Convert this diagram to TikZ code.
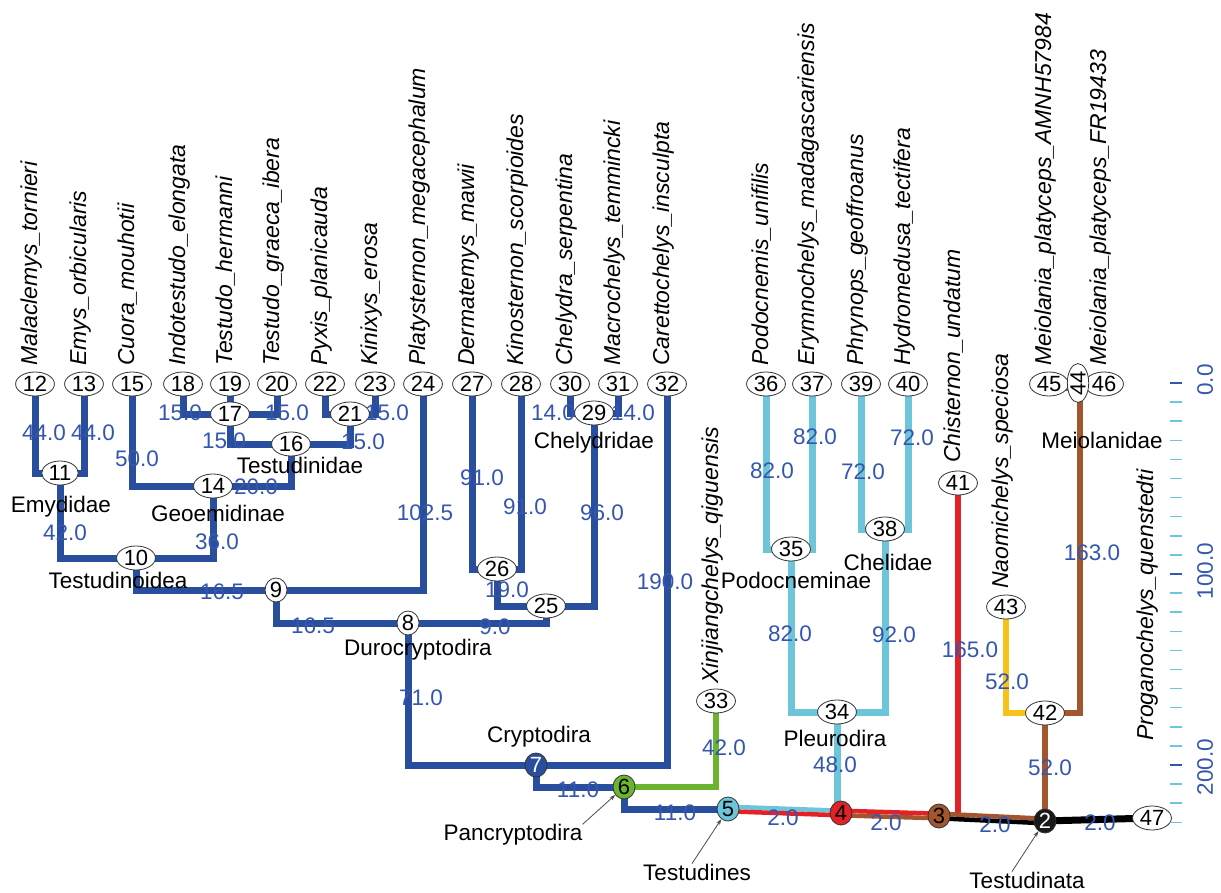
\documentclass[tikz,border=0pt]{standalone}
\usepackage{fontspec}
\setmainfont{Liberation Sans}
\usetikzlibrary{shapes.geometric,calc,backgrounds,arrows.meta}
\definecolor{cblue}{HTML}{2A4E9E}
\definecolor{lblue}{HTML}{6CC5D9}
\definecolor{cred}{HTML}{E32227}
\definecolor{cbrown}{HTML}{A3552E}
\definecolor{cyellow}{HTML}{F7C31B}
\definecolor{cgreen}{HTML}{6AB42E}
\definecolor{labblue}{HTML}{3556AE}
\begin{document}
\begin{tikzpicture}[x=1pt,y=-1pt,
  nd/.style={ellipse,draw=black!80,line width=0.8pt,fill=white,inner xsep=1.5pt,inner ysep=0pt,minimum height=24pt,minimum width=22pt,font=\fontsize{22}{22}\selectfont},
  tip/.style={rotate=90,anchor=base west,inner sep=0pt,font=\fontsize{23}{23}\selectfont\itshape},
  bl/.style={text=labblue,inner sep=0pt,font=\fontsize{22.5}{22.5}\selectfont},
  cl/.style={inner sep=0pt,font=\fontsize{22.5}{22.5}\selectfont},
  eb/.style={draw=cblue,line width=7pt},
  el/.style={draw=lblue,line width=7pt},
  er/.style={draw=cred,line width=6pt},
  ebr/.style={draw=cbrown,line width=6pt},
  ey/.style={draw=cyellow,line width=6pt},
  eg/.style={draw=cgreen,line width=6pt},
  ek/.style={draw=black,line width=7pt},
  half/.style={line width=4.5pt},
  arr/.style={draw=black!70,line width=0.8pt,-{Stealth[length=6pt,width=4pt]}},
  axl/.style={rotate=90,text=labblue,inner sep=0pt,font=\fontsize{22.5}{22.5}\selectfont}]
\useasboundingbox (0,0) rectangle (1221,893);

% tip nodes
\node[nd] (n12) at (35,384) {12};
\node[nd] (n13) at (84,384) {13};
\node[nd] (n15) at (132,384) {15};
\node[nd] (n18) at (183,384) {18};
\node[nd] (n19) at (230,384) {19};
\node[nd] (n20) at (277,384) {20};
\node[nd] (n22) at (325,384) {22};
\node[nd] (n23) at (375,384) {23};
\node[nd] (n24) at (423,384) {24};
\node[nd] (n27) at (472,384) {27};
\node[nd] (n28) at (521,384) {28};
\node[nd] (n30) at (570,384) {30};
\node[nd] (n31) at (618,384) {31};
\node[nd] (n32) at (667,384) {32};
\node[nd] (n36) at (766,384) {36};
\node[nd] (n37) at (812,384) {37};
\node[nd] (n39) at (861,384) {39};
\node[nd] (n40) at (908,384) {40};
\node[nd] (n45) at (1049,384) {45};
\node[nd] (n46) at (1104,384) {46};
\node[nd,rotate=90,minimum height=19pt] (n44) at (1078,383) {44};
\node[nd] (n33) at (716,701) {33};
\node[nd] (n41) at (958,483) {41};
\node[nd] (n43) at (1006,607) {43};
\node[nd] (n47) at (1152,818) {47};

% internal nodes
\node[nd] (n11) at (60,473) {11};
\node[nd] (n17) at (230,414) {17};
\node[nd] (n21) at (350,414) {21};
\node[nd] (n16) at (291,444) {16};
\node[nd] (n14) at (213,486) {14};
\node[nd] (n10) at (136,558) {10};
\node[nd] (n9) at (276,590) {9};
\node[nd] (n8) at (408,623) {8};
\node[nd] (n26) at (497,569) {26};
\node[nd] (n25) at (546,606) {25};
\node[nd] (n29) at (594,413) {29};
\node[nd,fill=cblue,text=white] (n7) at (536,765) {7};
\node[nd,fill=cgreen] (n6) at (624,787) {6};
\node[nd,fill=lblue] (n5) at (728,809) {5};
\node[nd,fill=cred] (n4) at (841,813) {4};
\node[nd,fill=cbrown] (n3) at (939,816) {3};
\node[nd,fill=black!90,text=white] (n2) at (1045,821) {2};
\node[nd] (n34) at (837,712) {34};
\node[nd] (n35) at (791,549) {35};
\node[nd] (n38) at (885,529) {38};
\node[nd] (n42) at (1045,713) {42};

\begin{pgfonlayer}{background}
% cryptodires
\draw[eb] (n12.center) |- (n11.center);
\draw[eb] (n13.center) |- (n11.center);
\draw[eb] (n11.center) |- (n10.center);
\draw[eb] (n14.center) |- (n10.center);
\draw[eb] (n15.center) |- (n14.center);
\draw[eb] (n16.center) |- (n14.center);
\draw[eb] (n18.center) |- (n17.center);
\draw[eb] (n20.center) |- (n17.center);
\draw[eb] (n19.center) -- (n17.center);
\draw[eb] (n17.center) |- (n16.center);
\draw[eb] (n21.center) |- (n16.center);
\draw[eb] (n22.center) |- (n21.center);
\draw[eb] (n23.center) |- (n21.center);
\draw[eb] (n10.center) |- (n9.center);
\draw[eb] (n24.center) |- (n9.center);
\draw[eb] (n9.center) |- (n8.center);
\draw[eb] (n25.center) |- (n8.center);
\draw[eb] (n26.center) |- (n25.center);
\draw[eb] (n29.center) |- (n25.center);
\draw[eb] (n27.center) |- (n26.center);
\draw[eb] (n28.center) |- (n26.center);
\draw[eb] (n30.center) |- (n29.center);
\draw[eb] (n31.center) |- (n29.center);
\draw[eb] (n8.center) |- (n7.center);
\draw[eb] (n32.center) |- (n7.center);
\draw[eb] (n7.center) |- (n6.center);
\draw[eb] (n6.center) |- (n5.center);
\draw[eg] (n33.center) |- (n6.center);
% pleurodires
\draw[el] (n36.center) |- (n35.center);
\draw[el] (n37.center) |- (n35.center);
\draw[el] (n39.center) |- (n38.center);
\draw[el] (n40.center) |- (n38.center);
\draw[el] (n35.center) |- (n34.center);
\draw[el] (n38.center) |- (n34.center);
\draw[el] (n34.center) -- (n34.center |- n4.center);
% stem
\draw[er] (n41.center) -- (n41.center |- n3.center);
\draw[ey] (n43.center) |- (n42.center);
\draw[ebr] ($(n44.center)+(2,0)$) |- (n42.center);
\draw[ebr,line width=5pt] ($(n45.center)+(0,4)$) -- ($(n46.center)+(0,4)$);
\draw[ebr] (n42.center) -- (n2.center);
\draw[el,half] ($(n5.center)+(0,-2.3)$) -- ($(n4.center)+(0,-2.3)$);
\draw[er,half] ($(n5.center)+(0,2.3)$) -- ($(n4.center)+(0,2.3)$);
\draw[er,half] ($(n4.center)+(0,-2.3)$) -- ($(n3.center)+(0,-2.3)$);
\draw[ebr,half] ($(n4.center)+(0,2.3)$) -- ($(n3.center)+(0,2.3)$);
\draw[ebr,half] ($(n3.center)+(0,-2.3)$) -- ($(n2.center)+(0,-2.3)$);
\draw[ek,half] ($(n3.center)+(0,2.3)$) -- ($(n2.center)+(0,2.3)$);
\draw[ek] (n2.center) -- (n47.center);
\end{pgfonlayer}

% tip labels
\node[tip] (t12) at (37,366) {Malaclemys\_tornieri};
\node[tip] (t13) at (86,366) {Emys\_orbicularis};
\node[tip] (t15) at (134,366) {Cuora\_mouhotii};
\node[tip] (t18) at (185,366) {Indotestudo\_elongata};
\node[tip] (t19) at (232,366) {Testudo\_hermanni};
\node[tip] (t20) at (279,366) {Testudo\_graeca\_ibera};
\node[tip] (t22) at (327,366) {Pyxis\_planicauda};
\node[tip] (t23) at (377,366) {Kinixys\_erosa};
\node[tip] (t24) at (425,366) {Platysternon\_megacephalum};
\node[tip] (t27) at (474,366) {Dermatemys\_mawii};
\node[tip] (t28) at (523,366) {Kinosternon\_scorpioides};
\node[tip] (t30) at (572,366) {Chelydra\_serpentina};
\node[tip] (t31) at (620,366) {Macrochelys\_temmincki};
\node[tip] (t32) at (669,366) {Carettochelys\_insculpta};
\node[tip] (t36) at (768,366) {Podocnemis\_unifilis};
\node[tip] (t37) at (814,366) {Erymnochelys\_madagascariensis};
\node[tip] (t39) at (863,366) {Phrynops\_geoffroanus};
\node[tip] (t40) at (910,366) {Hydromedusa\_tectifera};
\node[tip] (t45) at (1051,366) {Meiolania\_platyceps\_AMNH57984};
\node[tip] (t46) at (1106,366) {Meiolania\_platyceps\_FR19433};
\node[tip] (t33) at (718,684) {Xinjiangchelys\_qiguensis};
\node[tip] (t41) at (960,463) {Chisternon\_undatum};
\node[tip] (t43) at (1008,589) {Naomichelys\_speciosa};
\node[tip] (t47) at (1153,741) {Proganochelys\_quenstedti};

% clade labels
\node[cl] (cEmy) at (61,507) {Emydidae};
\node[cl] (cGeo) at (218,513) {Geoemidinae};
\node[cl] (cTdn) at (300,465) {Testudinidae};
\node[cl] (cTdo) at (118,580) {Testudinoidea};
\node[cl] (cChy) at (594,443) {Chelydridae};
\node[cl] (cDur) at (418,650) {Durocryptodira};
\node[cl] (cCry) at (539,737) {Cryptodira};
\node[cl] (cPan) at (513,835) {Pancryptodira};
\node[cl] (cTes) at (697,872) {Testudines};
\node[cl] (cPod) at (796,580) {Podocneminae};
\node[cl] (cChe) at (888,562) {Chelidae};
\node[cl] (cPle) at (835,738) {Pleurodira};
\node[cl] (cMei) at (1102,440) {Meiolanidae};
\node[cl] (cTta) at (1027,880) {Testudinata};

\draw[arr] (cPan.north east) -- (n6);
\draw[arr] ([xshift=-5pt]cTes.north) -- (n5);
\draw[arr] ([xshift=-15pt]cTta.north) -- (n2);

% branch lengths
\node[bl] (b1) at (44,433) {44.0};
\node[bl] (b2) at (93,433) {44.0};
\node[bl] (b3) at (180,413) {15.0};
\node[bl] (b4) at (287,413) {15.0};
\node[bl] (b5) at (387,413) {15.0};
\node[bl] (b6) at (224,441) {15.0};
\node[bl] (b7) at (363,442) {15.0};
\node[bl] (b8) at (137,459) {50.0};
\node[bl] (b9) at (256,487) {20.0};
\node[bl] (b10) at (65,533) {42.0};
\node[bl] (b11) at (217,542) {36.0};
\node[bl] (b12) at (222,592) {16.5};
\node[bl] (b13) at (425,513) {102.5};
\node[bl] (b14) at (313,626) {16.5};
\node[bl] (b15) at (482,478) {91.0};
\node[bl] (b16) at (525,507) {91.0};
\node[bl] (b17) at (553,413) {14.0};
\node[bl] (b18) at (633,413) {14.0};
\node[bl] (b19) at (602,513) {96.0};
\node[bl] (b20) at (507,590) {19.0};
\node[bl] (b21) at (495,627) {9.0};
\node[bl] (b22) at (665,582) {190.0};
\node[bl] (b23) at (421,698) {71.0};
\node[bl] (b24) at (578,790) {11.0};
\node[bl] (b25) at (675,813) {11.0};
\node[bl] (b26) at (724,748) {42.0};
\node[bl] (b27) at (783,818) {2.0};
\node[bl] (b28) at (835,765) {48.0};
\node[bl] (b29) at (772,471) {82.0};
\node[bl] (b30) at (815,437) {82.0};
\node[bl] (b31) at (863,472) {72.0};
\node[bl] (b32) at (912,438) {72.0};
\node[bl] (b33) at (790,634) {82.0};
\node[bl] (b34) at (894,635) {92.0};
\node[bl] (b35) at (970,650) {165.0};
\node[bl] (b36) at (1007,682) {52.0};
\node[bl] (b37) at (1050,768) {52.0};
\node[bl] (b38) at (1092,553) {163.0};
\node[bl] (b39) at (886,823) {2.0};
\node[bl] (b40) at (995,825) {2.0};
\node[bl] (b41) at (1100,823) {2.0};

% time axis
\foreach \k in {0,...,23}{
  \pgfmathsetmacro{\yy}{383+19.1*\k}
  \ifnum\k=0 \draw[labblue,line width=1.5pt] (1170,\yy) -- (1182,\yy);
  \else\ifnum\k=10 \draw[labblue,line width=1.5pt] (1170,\yy) -- (1182,\yy);
  \else\ifnum\k=20 \draw[labblue,line width=1.5pt] (1170,\yy) -- (1182,\yy);
  \else \draw[lblue,line width=1.5pt] (1170,\yy) -- (1182,\yy);
  \fi\fi\fi
}
\node[axl] (a0) at (1205,380) {0.0};
\node[axl] (a100) at (1205,571) {100.0};
\node[axl] (a200) at (1205,767) {200.0};
\end{tikzpicture}
\end{document}
